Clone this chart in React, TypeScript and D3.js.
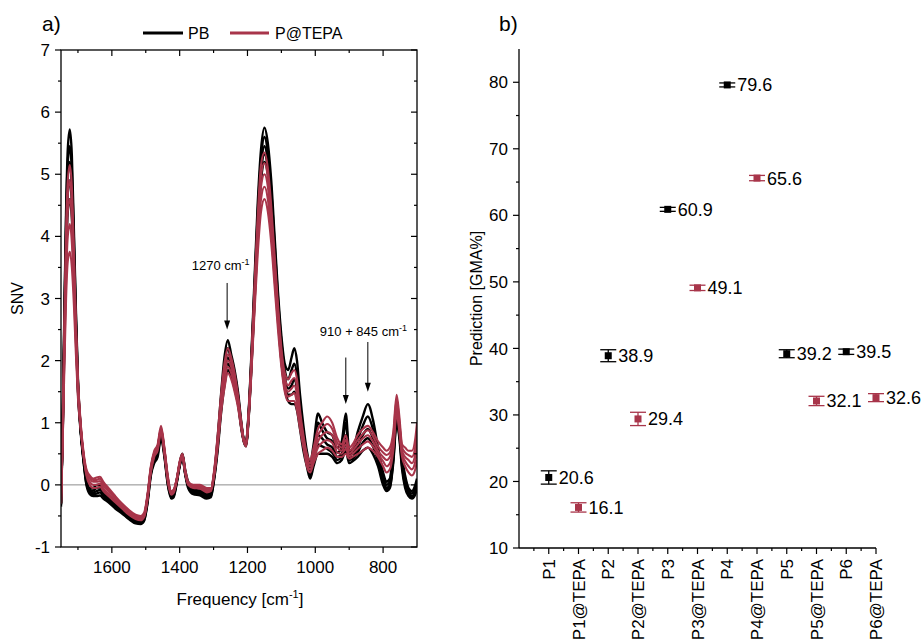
import React from "react";
import * as d3 from "d3";

// ---- panel a) spectra (SNV), sampled on a shared frequency grid ----
const freq = [
  1750, 1745, 1740, 1735, 1730, 1724, 1718, 1712, 1706, 1700, 1692, 1684, 1675, 1665, 1655, 1645, 1635, 1625, 1610, 1590,
  1570, 1550, 1530, 1515, 1505, 1495, 1485, 1475, 1465, 1455, 1445, 1435, 1425, 1418, 1408, 1400, 1392, 1384, 1375, 1360,
  1340, 1320, 1308, 1298, 1288, 1278, 1268, 1258, 1248, 1238, 1228, 1218, 1210, 1204, 1198, 1190, 1180, 1170, 1160, 1150,
  1140, 1130, 1120, 1110, 1100, 1090, 1080, 1070, 1062, 1054, 1045, 1035, 1025, 1015, 1005, 992, 980, 965, 950, 935,
  922, 910, 900, 890, 875, 860, 845, 830, 815, 800, 790, 780, 770, 760, 752, 744, 735, 725, 715, 705, 700,
];

const pbHigh = [
  -0.35, 1.0, 2.8, 4.4, 5.4, 5.72, 5.3, 4.1, 2.8, 1.7, 0.9, 0.45, 0.1, -0.05, -0.05, 0.0, 0.0, -0.1, -0.18, -0.28,
  -0.38, -0.48, -0.55, -0.55, -0.5, -0.2, 0.25, 0.5, 0.6, 0.88, 0.55, 0.1, -0.15, -0.12, 0.1, 0.35, 0.5, 0.25, 0.05, -0.05,
  -0.05, -0.12, -0.1, 0.2, 0.75, 1.45, 2.05, 2.33, 2.1, 1.85, 1.5, 1.0, 0.72, 0.7, 1.05, 1.9, 3.2, 4.5, 5.4, 5.75,
  5.5, 4.9, 4.0, 3.1, 2.4, 1.95, 1.85, 2.05, 2.2, 2.0, 1.45, 0.95, 0.55, 0.35, 0.65, 1.15, 1.0, 0.85, 0.8, 0.6,
  0.7, 1.15, 0.55, 0.55, 0.85, 1.1, 1.3, 1.05, 0.6, 0.2, 0.05, 0.1, 0.6, 1.2, 0.95, 0.45, 0.15, -0.05, -0.1, 0.0, 0.1,
];
const pbUpper = [
  -0.32, 0.95, 2.7, 4.25, 5.2, 5.45, 5.05, 3.95, 2.7, 1.65, 0.9, 0.45, 0.08, -0.08, -0.09, -0.05, -0.04, -0.12, -0.2, -0.3,
  -0.4, -0.5, -0.57, -0.58, -0.53, -0.22, 0.22, 0.47, 0.57, 0.85, 0.52, 0.08, -0.16, -0.14, 0.09, 0.33, 0.49, 0.22, 0.02, -0.08,
  -0.09, -0.15, -0.12, 0.17, 0.7, 1.38, 1.92, 2.2, 2.0, 1.78, 1.45, 0.97, 0.71, 0.68, 1.02, 1.85, 3.1, 4.35, 5.25, 5.6,
  5.35, 4.75, 3.88, 3.0, 2.3, 1.85, 1.7, 1.85, 1.95, 1.78, 1.3, 0.85, 0.48, 0.28, 0.55, 1.0, 0.88, 0.75, 0.7, 0.52,
  0.6, 1.0, 0.5, 0.5, 0.72, 0.95, 1.1, 0.9, 0.52, 0.15, 0.0, 0.05, 0.52, 1.15, 0.9, 0.4, 0.1, -0.08, -0.14, -0.05, 0.05,
];
const pbMid = [
  -0.3, 0.9, 2.6, 4.1, 5.0, 5.2, 4.8, 3.8, 2.6, 1.6, 0.9, 0.45, 0.05, -0.1, -0.12, -0.1, -0.08, -0.15, -0.22, -0.32,
  -0.42, -0.52, -0.58, -0.6, -0.55, -0.25, 0.2, 0.45, 0.55, 0.82, 0.5, 0.05, -0.18, -0.16, 0.08, 0.32, 0.48, 0.2, 0.0, -0.1,
  -0.12, -0.17, -0.15, 0.15, 0.65, 1.3, 1.8, 2.05, 1.9, 1.7, 1.4, 0.95, 0.7, 0.66, 1.0, 1.8, 3.0, 4.2, 5.1, 5.45,
  5.2, 4.6, 3.75, 2.9, 2.2, 1.75, 1.55, 1.6, 1.7, 1.55, 1.15, 0.75, 0.4, 0.2, 0.45, 0.8, 0.75, 0.65, 0.6, 0.45,
  0.5, 0.8, 0.45, 0.45, 0.6, 0.8, 0.9, 0.75, 0.45, 0.1, -0.05, 0.0, 0.45, 1.1, 0.85, 0.35, 0.05, -0.12, -0.18, -0.1, 0.0,
];
const pbLower = [
  -0.3, 0.85, 2.45, 3.85, 4.7, 4.9, 4.55, 3.6, 2.5, 1.55, 0.88, 0.42, 0.02, -0.12, -0.15, -0.14, -0.12, -0.18, -0.25, -0.35,
  -0.44, -0.54, -0.6, -0.62, -0.57, -0.28, 0.18, 0.4, 0.5, 0.78, 0.48, 0.02, -0.2, -0.18, 0.06, 0.31, 0.46, 0.19, -0.02, -0.12,
  -0.15, -0.2, -0.18, 0.12, 0.6, 1.22, 1.7, 1.95, 1.82, 1.62, 1.35, 0.92, 0.69, 0.64, 0.98, 1.75, 2.92, 4.1, 5.0, 5.32,
  5.1, 4.5, 3.65, 2.8, 2.1, 1.65, 1.45, 1.45, 1.5, 1.38, 1.02, 0.65, 0.35, 0.15, 0.38, 0.65, 0.62, 0.58, 0.52, 0.4,
  0.45, 0.68, 0.4, 0.42, 0.52, 0.68, 0.75, 0.62, 0.38, 0.05, -0.08, -0.03, 0.4, 1.05, 0.8, 0.3, 0.0, -0.15, -0.2, -0.12, -0.02,
];
const pbLow = [
  -0.3, 0.8, 2.3, 3.6, 4.4, 4.6, 4.3, 3.4, 2.4, 1.5, 0.85, 0.4, 0.0, -0.15, -0.18, -0.18, -0.17, -0.22, -0.28, -0.38,
  -0.46, -0.55, -0.62, -0.63, -0.58, -0.3, 0.15, 0.35, 0.45, 0.75, 0.45, 0.0, -0.22, -0.2, 0.05, 0.3, 0.45, 0.18, -0.05, -0.15,
  -0.17, -0.22, -0.2, 0.1, 0.55, 1.15, 1.6, 1.85, 1.75, 1.55, 1.3, 0.9, 0.68, 0.62, 0.95, 1.7, 2.85, 4.0, 4.9, 5.2,
  5.0, 4.4, 3.55, 2.7, 2.0, 1.55, 1.35, 1.3, 1.3, 1.2, 0.9, 0.55, 0.3, 0.1, 0.3, 0.5, 0.5, 0.5, 0.45, 0.35,
  0.4, 0.55, 0.35, 0.38, 0.45, 0.55, 0.6, 0.5, 0.3, 0.0, -0.1, -0.05, 0.35, 1.0, 0.75, 0.25, -0.05, -0.18, -0.22, -0.15, -0.05,
];
const tepaHigh = [
  -0.3, 0.9, 2.6, 4.1, 4.9, 5.15, 4.8, 3.8, 2.6, 1.7, 1.0, 0.55, 0.25, 0.15, 0.1, 0.12, 0.13, 0.05, -0.05, -0.18,
  -0.3, -0.4, -0.48, -0.5, -0.45, -0.15, 0.3, 0.55, 0.65, 0.95, 0.6, 0.15, -0.1, -0.08, 0.12, 0.38, 0.5, 0.25, 0.05, 0.0,
  0.0, -0.05, -0.05, 0.25, 0.8, 1.45, 1.95, 2.2, 2.05, 1.8, 1.45, 1.0, 0.72, 0.7, 1.05, 1.85, 3.1, 4.3, 5.15, 5.35,
  5.1, 4.5, 3.7, 2.9, 2.2, 1.8, 1.7, 1.8, 1.85, 1.7, 1.2, 0.8, 0.5, 0.4, 0.6, 0.9, 1.0, 1.1, 1.0, 0.75,
  0.65, 0.8, 0.6, 0.65, 0.8, 0.9, 0.95, 0.85, 0.7, 0.6, 0.55, 0.6, 0.85, 1.45, 1.1, 0.65, 0.6, 0.55, 0.55, 0.75, 1.0,
];
const tepaUpper = [
  -0.3, 0.85, 2.45, 3.85, 4.65, 4.9, 4.55, 3.6, 2.5, 1.65, 0.98, 0.52, 0.22, 0.12, 0.08, 0.08, 0.1, 0.02, -0.08, -0.2,
  -0.32, -0.42, -0.5, -0.52, -0.48, -0.18, 0.28, 0.52, 0.62, 0.92, 0.58, 0.12, -0.12, -0.09, 0.11, 0.36, 0.49, 0.24, 0.04, -0.02,
  -0.02, -0.06, -0.06, 0.22, 0.75, 1.38, 1.85, 2.1, 1.98, 1.72, 1.4, 0.98, 0.71, 0.68, 1.02, 1.8, 3.0, 4.15, 4.98, 5.18,
  4.95, 4.35, 3.58, 2.8, 2.12, 1.72, 1.6, 1.68, 1.72, 1.58, 1.12, 0.75, 0.45, 0.35, 0.52, 0.8, 0.9, 0.98, 0.9, 0.68,
  0.6, 0.72, 0.55, 0.6, 0.72, 0.82, 0.88, 0.78, 0.62, 0.52, 0.48, 0.52, 0.78, 1.38, 1.02, 0.6, 0.52, 0.48, 0.45, 0.62, 0.85,
];
const tepaMid = [
  -0.3, 0.8, 2.3, 3.6, 4.4, 4.6, 4.3, 3.4, 2.4, 1.6, 0.95, 0.5, 0.2, 0.1, 0.05, 0.05, 0.06, -0.02, -0.1, -0.22,
  -0.34, -0.44, -0.52, -0.54, -0.5, -0.2, 0.25, 0.5, 0.6, 0.9, 0.55, 0.1, -0.13, -0.1, 0.1, 0.35, 0.48, 0.22, 0.02, -0.03,
  -0.03, -0.08, -0.08, 0.2, 0.7, 1.3, 1.75, 2.0, 1.9, 1.65, 1.35, 0.95, 0.7, 0.66, 1.0, 1.75, 2.9, 4.0, 4.8, 5.0,
  4.8, 4.2, 3.45, 2.7, 2.05, 1.65, 1.5, 1.55, 1.6, 1.45, 1.05, 0.7, 0.4, 0.3, 0.45, 0.7, 0.8, 0.85, 0.8, 0.6,
  0.55, 0.65, 0.5, 0.55, 0.65, 0.75, 0.8, 0.7, 0.55, 0.45, 0.4, 0.45, 0.7, 1.3, 0.95, 0.55, 0.45, 0.4, 0.35, 0.5, 0.7,
];
const tepaLower = [
  -0.28, 0.75, 2.1, 3.3, 4.0, 4.2, 3.9, 3.15, 2.25, 1.5, 0.92, 0.5, 0.18, 0.05, 0.0, 0.0, 0.02, -0.06, -0.14, -0.25,
  -0.36, -0.46, -0.53, -0.55, -0.51, -0.22, 0.22, 0.48, 0.58, 0.88, 0.52, 0.08, -0.14, -0.12, 0.09, 0.34, 0.47, 0.21, 0.01, -0.04,
  -0.05, -0.1, -0.09, 0.18, 0.65, 1.22, 1.65, 1.9, 1.8, 1.58, 1.3, 0.92, 0.69, 0.64, 0.98, 1.7, 2.8, 3.85, 4.6, 4.8,
  4.6, 4.05, 3.32, 2.6, 1.98, 1.58, 1.42, 1.45, 1.48, 1.32, 0.98, 0.65, 0.35, 0.25, 0.4, 0.6, 0.68, 0.72, 0.68, 0.52,
  0.5, 0.58, 0.46, 0.5, 0.58, 0.65, 0.7, 0.62, 0.5, 0.38, 0.3, 0.35, 0.62, 1.22, 0.9, 0.5, 0.38, 0.3, 0.25, 0.38, 0.55,
];
const tepaLow = [
  -0.25, 0.7, 1.9, 3.0, 3.6, 3.75, 3.5, 2.9, 2.1, 1.4, 0.9, 0.5, 0.15, 0.0, -0.05, -0.05, -0.03, -0.1, -0.18, -0.28,
  -0.38, -0.48, -0.55, -0.57, -0.52, -0.25, 0.2, 0.45, 0.55, 0.85, 0.5, 0.05, -0.16, -0.13, 0.08, 0.33, 0.46, 0.2, 0.0, -0.05,
  -0.06, -0.12, -0.1, 0.15, 0.6, 1.15, 1.55, 1.8, 1.7, 1.5, 1.25, 0.9, 0.68, 0.62, 0.95, 1.65, 2.7, 3.7, 4.4, 4.6,
  4.4, 3.9, 3.2, 2.5, 1.9, 1.5, 1.35, 1.35, 1.35, 1.2, 0.9, 0.6, 0.3, 0.2, 0.35, 0.5, 0.55, 0.6, 0.55, 0.45,
  0.45, 0.5, 0.42, 0.45, 0.5, 0.55, 0.6, 0.55, 0.45, 0.3, 0.2, 0.25, 0.55, 1.15, 0.85, 0.45, 0.3, 0.2, 0.15, 0.25, 0.4,
];

const pbSpectra = [pbLow, pbLower, pbMid, pbUpper, pbHigh];
const tepaSpectra = [tepaHigh, tepaUpper, tepaMid, tepaLower, tepaLow];

// ---- panel b) predictions ----
const samples = ["P1", "P1@TEPA", "P2", "P2@TEPA", "P3", "P3@TEPA", "P4", "P4@TEPA", "P5", "P5@TEPA", "P6", "P6@TEPA"];
const predicted = [20.6, 16.1, 38.9, 29.4, 60.9, 49.1, 79.6, 65.6, 39.2, 32.1, 39.5, 32.6];
const predError = [1.0, 0.7, 0.9, 1.0, 0.3, 0.4, 0.3, 0.4, 0.6, 0.7, 0.4, 0.6];

const BLACK = "#000000";
const WINE = "#a8354a";
const FONT = "'Liberation Sans', Arial, sans-serif";

// panel a geometry
const a = { left: 61, right: 417, top: 50, bottom: 547 };
const xA = d3.scaleLinear().domain([1750, 700]).range([a.left, a.right]);
const yA = d3.scaleLinear().domain([-1, 7]).range([a.bottom, a.top]);

// panel b geometry
const b = { left: 519, right: 876, top: 49, bottom: 548 };
const xB = d3.scaleLinear().domain([0, samples.length]).range([b.left, b.right]);
const yB = d3.scaleLinear().domain([10, 85]).range([b.bottom, b.top]);

const specLine = (vals: number[]) =>
  d3
    .line<number>()
    .x((_, i) => xA(freq[i]))
    .y((v) => yA(v))
    .curve(d3.curveMonotoneX)(vals) || "";

function Arrow({ x, y0, y1 }: { x: number; y0: number; y1: number }) {
  return (
    <g>
      <line x1={x} x2={x} y1={y0} y2={y1 - 7} stroke="#000" strokeWidth={1} />
      <path d={`M${x - 3},${y1 - 9} L${x + 3},${y1 - 9} L${x},${y1} Z`} fill="#000" />
    </g>
  );
}

function PanelA() {
  const xMajor = [1600, 1400, 1200, 1000, 800];
  const xMinor = d3.range(1700, 700, -100);
  const yMajor = d3.range(-1, 8, 1);
  const yMinor = d3.range(-0.5, 7, 1);
  return (
    <g fontFamily={FONT}>
      <text x={42} y={31} fontSize={21}>a)</text>

      {/* legend */}
      <line x1={143} x2={183} y1={33} y2={33} stroke={BLACK} strokeWidth={3} />
      <text x={188} y={39} fontSize={16}>PB</text>
      <line x1={230} x2={269} y1={33} y2={33} stroke={WINE} strokeWidth={3} />
      <text x={275} y={39} fontSize={16}>P@TEPA</text>

      <defs>
        <clipPath id="clipA">
          <rect x={a.left} y={a.top} width={a.right - a.left} height={a.bottom - a.top} />
        </clipPath>
      </defs>

      <line x1={a.left} x2={a.right} y1={yA(0)} y2={yA(0)} stroke="#8c8c8c" strokeWidth={1} />

      <g clipPath="url(#clipA)" fill="none" strokeLinejoin="round">
        {pbSpectra.map((s, i) => (
          <path key={"pb" + i} d={specLine(s)} stroke={BLACK} strokeWidth={2.4} />
        ))}
        {tepaSpectra.map((s, i) => (
          <path key={"tp" + i} d={specLine(s)} stroke={WINE} strokeWidth={2.1} />
        ))}
      </g>

      {/* annotations */}
      <text x={xA(1279)} y={yA(3.46)} fontSize={13} textAnchor="middle">
        1270 cm<tspan dy={-5} fontSize={9}>-1</tspan>
      </text>
      <Arrow x={xA(1260)} y0={yA(3.25)} y1={yA(2.5)} />
      <text x={xA(858)} y={yA(2.4)} fontSize={13} textAnchor="middle">
        910 + 845 cm<tspan dy={-5} fontSize={9}>-1</tspan>
      </text>
      <Arrow x={xA(910)} y0={yA(2.05)} y1={yA(1.3)} />
      <Arrow x={xA(845)} y0={yA(2.3)} y1={yA(1.5)} />

      {/* frame */}
      <rect x={a.left} y={a.top} width={a.right - a.left} height={a.bottom - a.top} fill="none" stroke="#000" strokeWidth={1.3} />

      {/* x ticks: out at bottom, in at top */}
      {xMajor.map((t) => (
        <g key={"xM" + t}>
          <line x1={xA(t)} x2={xA(t)} y1={a.bottom} y2={a.bottom + 6} stroke="#000" strokeWidth={1.2} />
          <line x1={xA(t)} x2={xA(t)} y1={a.top} y2={a.top + 6} stroke="#000" strokeWidth={1.2} />
          <text x={xA(t)} y={a.bottom + 26} fontSize={17} textAnchor="middle">{t}</text>
        </g>
      ))}
      {xMinor.filter((t) => !xMajor.includes(t)).map((t) => (
        <g key={"xm" + t}>
          <line x1={xA(t)} x2={xA(t)} y1={a.bottom} y2={a.bottom + 3} stroke="#000" strokeWidth={1.2} />
          <line x1={xA(t)} x2={xA(t)} y1={a.top} y2={a.top + 3} stroke="#000" strokeWidth={1.2} />
        </g>
      ))}

      {/* y ticks: out at left, in at right */}
      {yMajor.map((t) => (
        <g key={"yM" + t}>
          <line x1={a.left - 6} x2={a.left} y1={yA(t)} y2={yA(t)} stroke="#000" strokeWidth={1.2} />
          <line x1={a.right - 6} x2={a.right} y1={yA(t)} y2={yA(t)} stroke="#000" strokeWidth={1.2} />
          <text x={a.left - 11} y={yA(t)} dy="0.36em" fontSize={17} textAnchor="end">{t}</text>
        </g>
      ))}
      {yMinor.map((t) => (
        <g key={"ym" + t}>
          <line x1={a.left - 3} x2={a.left} y1={yA(t)} y2={yA(t)} stroke="#000" strokeWidth={1.2} />
          <line x1={a.right - 3} x2={a.right} y1={yA(t)} y2={yA(t)} stroke="#000" strokeWidth={1.2} />
        </g>
      ))}

      <text x={240} y={605} fontSize={17} textAnchor="middle">
        Frequency [cm<tspan dy={-7} fontSize={11}>-1</tspan><tspan dy={7}>]</tspan>
      </text>
      <text transform={`translate(23,${(a.top + a.bottom) / 2}) rotate(-90)`} fontSize={16} textAnchor="middle">SNV</text>
    </g>
  );
}

function PanelB() {
  const yMajor = d3.range(10, 90, 10);
  const yMinor = d3.range(15, 85, 10);
  const cap = 8;
  return (
    <g fontFamily={FONT}>
      <text x={499} y={31} fontSize={21}>b)</text>

      <line x1={b.left} x2={b.left} y1={b.top} y2={b.bottom} stroke="#000" strokeWidth={1.3} />
      <line x1={b.left} x2={b.right} y1={b.bottom} y2={b.bottom} stroke="#000" strokeWidth={1.3} />

      {yMajor.map((t) => (
        <g key={"bM" + t}>
          <line x1={b.left - 6} x2={b.left} y1={yB(t)} y2={yB(t)} stroke="#000" strokeWidth={1.2} />
          <text x={b.left - 11} y={yB(t)} dy="0.36em" fontSize={17} textAnchor="end">{t}</text>
        </g>
      ))}
      {yMinor.map((t) => (
        <line key={"bm" + t} x1={b.left - 3} x2={b.left} y1={yB(t)} y2={yB(t)} stroke="#000" strokeWidth={1.2} />
      ))}

      {samples.map((s, i) => (
        <g key={s}>
          <line x1={xB(i + 1)} x2={xB(i + 1)} y1={b.bottom} y2={b.bottom + 6} stroke="#000" strokeWidth={1.2} />
          <line x1={xB(i + 0.5)} x2={xB(i + 0.5)} y1={b.bottom} y2={b.bottom + 3} stroke="#000" strokeWidth={1.2} />
          <text
            transform={`translate(${xB(i + 1)},${b.bottom + 11}) rotate(-90)`}
            dy="0.36em"
            fontSize={17}
            textAnchor="end"
          >
            {s}
          </text>
        </g>
      ))}

      {predicted.map((v, i) => {
        const c = i % 2 === 0 ? BLACK : WINE;
        const cx = xB(i + 1);
        const lo = yB(v - predError[i]);
        const hi = yB(v + predError[i]);
        return (
          <g key={"p" + i}>
            <line x1={cx} x2={cx} y1={lo} y2={hi} stroke={c} strokeWidth={1.3} />
            <line x1={cx - cap} x2={cx + cap} y1={lo} y2={lo} stroke={c} strokeWidth={1.3} />
            <line x1={cx - cap} x2={cx + cap} y1={hi} y2={hi} stroke={c} strokeWidth={1.3} />
            <rect x={cx - 3.5} y={yB(v) - 3.5} width={7} height={7} fill={c} />
            <text x={cx + 10} y={yB(v)} dy="0.36em" fontSize={18} fill="#000">
              {v.toFixed(1)}
            </text>
          </g>
        );
      })}

      <text transform={`translate(476,${(b.top + b.bottom) / 2}) rotate(-90)`} dy="0.36em" fontSize={16} textAnchor="middle">
        Prediction [GMA%]
      </text>
    </g>
  );
}

export default function App() {
  return (
    <svg
      width={921}
      height={641}
      style={{ position: "absolute", left: 0, top: 0, background: "#fff" }}
    >
      <PanelA />
      <PanelB />
    </svg>
  );
}
